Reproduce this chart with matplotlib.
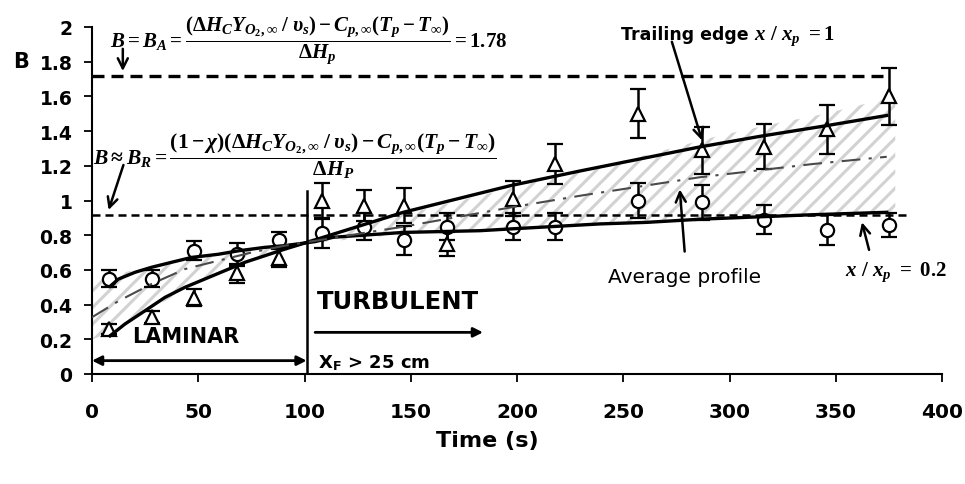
import numpy as np
import matplotlib
matplotlib.use("Agg")
import matplotlib.pyplot as plt

plt.rcParams['font.family'] = ['DejaVu Sans']
plt.rcParams['mathtext.fontset'] = 'custom'
plt.rcParams['mathtext.it'] = 'Liberation Serif:italic:bold'
plt.rcParams['mathtext.rm'] = 'Liberation Serif:bold'
plt.rcParams['mathtext.bf'] = 'Liberation Serif:bold'
plt.rcParams['mathtext.cal'] = 'Liberation Serif:bold'
plt.rcParams['hatch.linewidth'] = 2.2

# ---- data ----
time_s = [8, 28, 48, 68, 88, 108, 128, 147, 167, 198, 218, 257, 287, 316, 346, 375]
b_circle = [0.55, 0.55, 0.71, 0.69, 0.77, 0.81, 0.85, 0.77, 0.85, 0.85, 0.85, 1.00, 0.99, 0.89, 0.83, 0.86]
err_circle = [0.05, 0.05, 0.055, 0.065, 0.05, 0.085, 0.08, 0.085, 0.08, 0.08, 0.08, 0.10, 0.10, 0.085, 0.085, 0.07]
b_triangle = [0.26, 0.33, 0.44, 0.58, 0.67, 1.00, 0.97, 0.97, 0.75, 1.01, 1.21, 1.50, 1.29, 1.31, 1.41, 1.60]
err_triangle = [0.03, 0.035, 0.05, 0.055, 0.055, 0.10, 0.09, 0.10, 0.07, 0.10, 0.115, 0.14, 0.135, 0.13, 0.14, 0.165]

# fitted profiles
trail_t = [8.5, 15.5, 25, 34.4, 43.8, 53.2, 62.6, 72, 81.4, 90.8, 100.2, 146.5, 196.7, 229.6, 285.3, 314.4, 345, 374]
fit_trailing = [0.22, 0.288, 0.365, 0.442, 0.50, 0.548, 0.596, 0.644, 0.682, 0.72, 0.755, 0.932, 1.085, 1.17, 1.307, 1.37, 1.43, 1.49]
x02_t = [8.5, 12.4, 20.2, 28, 37.5, 46.9, 59.4, 68.9, 81.4, 90.8, 105, 113.5, 146.5, 182.6, 196.7, 239, 261, 287.5, 339, 374]
fit_02 = [0.505, 0.547, 0.586, 0.615, 0.644, 0.672, 0.69, 0.71, 0.73, 0.74, 0.763, 0.788, 0.816, 0.826, 0.836, 0.865, 0.874, 0.893, 0.918, 0.932]
avg_t = [0, 12.4, 28, 43.8, 59.4, 75, 90.8, 147, 197, 231, 286, 339, 374]
avg_profile = [0.327, 0.42, 0.519, 0.605, 0.653, 0.70, 0.74, 0.85, 0.96, 1.03, 1.134, 1.21, 1.252]

band_t = [0, 10, 20, 30, 40, 50, 60, 70, 80, 90, 100, 150, 200, 230, 260, 294, 320, 345, 378]
band_hi = [0.53, 0.57, 0.60, 0.625, 0.65, 0.675, 0.695, 0.715, 0.73, 0.745, 0.77, 0.93, 1.08, 1.17, 1.26, 1.37, 1.44, 1.50, 1.60]
band_lo = [0.20, 0.24, 0.31, 0.39, 0.46, 0.53, 0.58, 0.63, 0.67, 0.71, 0.75, 0.81, 0.835, 0.86, 0.875, 0.895, 0.91, 0.92, 0.93]

b_adiabatic = 1.72
b_radiative = 0.915
x_transition = 101

xticks = [0, 50, 100, 150, 200, 250, 300, 350, 400]
yticks = [0, 0.2, 0.4, 0.6, 0.8, 1, 1.2, 1.4, 1.6, 1.8, 2]
ytick_labels = ['0', '0.2', '0.4', '0.6', '0.8', '1', '1.2', '1.4', '1.6', '1.8', '2']

fig = plt.figure(figsize=(9.65, 4.85), dpi=100)
ax = fig.add_axes([92/965, 1 - 375/485, (942 - 92)/965, (375 - 28)/485])

ax.fill_between(band_t, band_lo, band_hi, facecolor='white', edgecolor='#d2d2d2',
                hatch='//', linewidth=0, zorder=1)

ax.axhline(b_adiabatic, xmin=0, xmax=374/400, color='black', lw=2.4, dashes=(3.6, 2.1), zorder=2)
ax.axhline(b_radiative, xmin=0, xmax=383/400, color='black', lw=1.8, dashes=(3.2, 2.0), zorder=2)

ax.errorbar(time_s, b_circle, yerr=err_circle, fmt='o', ms=9.5, mfc='white', mec='black', mew=1.6,
            ecolor='black', elinewidth=1.8, capsize=5.5, capthick=1.8, zorder=3)
ax.errorbar(time_s, b_triangle, yerr=err_triangle, fmt='^', ms=10, mfc='white', mec='black', mew=1.6,
            ecolor='black', elinewidth=1.8, capsize=5.5, capthick=1.8, zorder=3)

ax.plot(trail_t, fit_trailing, color='black', lw=2.4, zorder=4, solid_joinstyle='round')
ax.plot(x02_t, fit_02, color='black', lw=2.4, zorder=4, solid_joinstyle='round')
ax.plot(avg_t, avg_profile, color='#4a4a4a', lw=1.5, dashes=(9, 4, 1.5, 4), zorder=4)

ax.plot([x_transition, x_transition], [0, 1.055], color='black', lw=1.8, zorder=4)

ax.set_xlim(0, 400)
ax.set_ylim(0, 2)
ax.set_xticks(xticks)
ax.set_xticklabels([str(v) for v in xticks], fontsize=14.5, fontweight='bold')
ax.set_yticks(yticks)
ax.set_yticklabels(ytick_labels, fontsize=13.5, fontweight='bold')
ax.tick_params(direction='out', length=6, width=1.3)
ax.tick_params(axis='x', pad=14)
ax.tick_params(axis='y', pad=8)
for s in ['top', 'right']:
    ax.spines[s].set_visible(False)
for s in ['left', 'bottom']:
    ax.spines[s].set_linewidth(1.5)
ax.set_xlabel('Time (s)', fontsize=16, fontweight='bold')
ax.xaxis.set_label_coords(0.465, -0.16)
ax.text(-0.0835, 0.902, 'B', transform=ax.transAxes, fontsize=15, fontweight='bold', ha='center', va='center')

# equations
eqA = (r'$B = B_A = \dfrac{(\Delta H_C Y_{O_2,\infty}\;/\;\upsilon_s) - C_{p,\infty}(T_p - T_\infty)}'
       r'{\Delta H_p} = 1.78$')
ax.text(8.5, 1.93, eqA, fontsize=15, ha='left', va='center')
eqR = (r'$B \approx B_R = \dfrac{(1-\chi)(\Delta H_C Y_{O_2,\infty}\;/\;\upsilon_s) - C_{p,\infty}(T_p - T_\infty)}'
       r'{\Delta H_P}$')
ax.text(0.5, 1.26, eqR, fontsize=15.5, ha='left', va='center')

arrow_kw = dict(arrowstyle='->', color='black', lw=1.8, mutation_scale=18)
ax.annotate('', xy=(14.5, 1.73), xytext=(14.5, 1.89), arrowprops=arrow_kw)
ax.annotate('', xy=(7.4, 0.93), xytext=(15.2, 1.22), arrowprops=arrow_kw)

ax.annotate('', xy=(0, 0.077), xytext=(x_transition, 0.077),
            arrowprops=dict(arrowstyle='<|-|>', color='black', lw=2, mutation_scale=14,
                            shrinkA=0, shrinkB=0))
ax.annotate('', xy=(184, 0.24), xytext=(105, 0.24),
            arrowprops=dict(arrowstyle='-|>', color='black', lw=2, mutation_scale=14,
                            shrinkA=0, shrinkB=0))

ax.text(44, 0.22, 'LAMINAR', fontsize=15, fontweight='bold', ha='center', va='center')
ax.text(144, 0.42, 'TURBULENT', fontsize=17.5, fontweight='bold', ha='center', va='center')
ax.text(106.5, 0.068, r'X$_\mathregular{F}$ > 25 cm', fontsize=13, fontweight='bold', ha='left', va='center')

ax.text(249, 1.96, 'Trailing edge', fontsize=12.5, fontweight='bold', ha='left', va='center')
ax.text(311.5, 1.955, r'$x\ /\ x_p\ =1$', fontsize=15, ha='left', va='center')
ax.annotate('', xy=(287.5, 1.33), xytext=(272.5, 1.93), arrowprops=arrow_kw)

ax.text(243, 0.56, 'Average profile', fontsize=14.5, ha='left', va='center')
ax.annotate('', xy=(276.5, 1.08), xytext=(279, 0.69), arrowprops=arrow_kw)

ax.text(354.5, 0.59, r'$x\ /\ x_p\ =\ 0.2$', fontsize=15, ha='left', va='center')
ax.annotate('', xy=(362, 0.89), xytext=(366, 0.70), arrowprops=arrow_kw)

fig.savefig('out.png', dpi=100)
